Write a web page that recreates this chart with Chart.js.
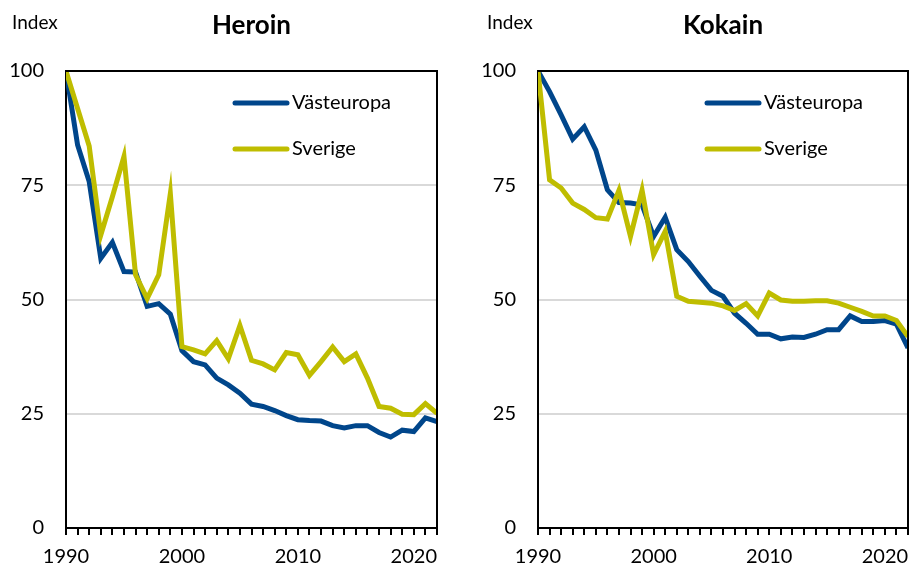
<!DOCTYPE html>
<html>
<head>
<meta charset="utf-8">
<script src="https://cdn.jsdelivr.net/npm/chart.js@4.4.1/dist/chart.umd.min.js"></script>
<style>
  html, body { margin:0; padding:0; background:#fff; }
  .panel { position:absolute; top:0; height:569px; }
  #p1 { left:0; width:455px; }
  #p2 { left:472px; width:438px; }
</style>
</head>
<body>
<div class="panel" id="p1"><canvas id="heroinChart"></canvas></div>
<div class="panel" id="p2"><canvas id="kokainChart"></canvas></div>
<script>
/* ---------- Data ---------- */
const years = [1990,1991,1992,1993,1994,1995,1996,1997,1998,1999,2000,2001,2002,2003,2004,2005,2006,2007,2008,2009,2010,2011,2012,2013,2014,2015,2016,2017,2018,2019,2020,2021,2022];
const xTickLabels = [1990, 2000, 2010, 2020];
const yTickLabels = [0, 25, 50, 75, 100];

const heroinVasteuropa = [100,83.8,75.8,59,62.5,56.1,56,48.5,49.1,46.8,38.8,36.4,35.7,32.8,31.3,29.5,27.1,26.6,25.7,24.6,23.7,23.5,23.4,22.4,21.9,22.4,22.4,20.9,19.9,21.4,21.1,24.1,23.3];
const heroinSverige    = [100,91.8,83.6,64.1,72.5,81.3,55.4,50.2,55.4,73.2,39.7,39,38.1,41,37,44.3,36.7,35.9,34.6,38.4,37.9,33.4,36.4,39.6,36.4,38.1,32.8,26.6,26.2,24.9,24.8,27.2,25.1];

const kokainVasteuropa = [100,95.5,90.4,85.1,87.8,82.7,74,71.2,71.1,70.7,63.8,68,60.9,58.3,55.1,52,50.7,47,44.8,42.4,42.4,41.4,41.8,41.7,42.4,43.4,43.4,46.4,45.2,45.2,45.4,44.6,39.4];
const kokainSverige    = [100,76.2,74.4,71.1,69.7,67.9,67.6,73.9,63.8,73.9,59.8,64.9,50.7,49.6,49.4,49.2,48.6,47.6,49.1,46.4,51.4,49.9,49.6,49.6,49.7,49.7,49.2,48.3,47.4,46.4,46.4,45.4,41.9];

const BLUE = "#00468b";
const YELLOW = "#bfbd00";
const FONT = "Lato, 'DejaVu Sans', sans-serif";

/* ---------- Plugin: frame, title, "Index", legend ---------- */
const decorations = {
  id: "decorations",
  afterDatasetsDraw(c, args, opts){
    const g = c.ctx, a = c.chartArea;
    g.save();
    // box on top and right
    g.strokeStyle = "#000";
    g.lineWidth = 2;
    g.beginPath();
    g.moveTo(a.left, a.top);
    g.lineTo(a.right, a.top);
    g.lineTo(a.right, a.bottom);
    g.stroke();

    // legend inside plot
    c.data.datasets.forEach((ds, i) => {
      const y = a.top + 32 + i * 46;
      const x0 = a.left + 169;
      g.strokeStyle = ds.borderColor;
      g.lineWidth = 5;
      g.lineCap = "round";
      g.beginPath();
      g.moveTo(x0, y);
      g.lineTo(x0 + 52, y);
      g.stroke();
      g.fillStyle = "#000";
      g.font = "20px " + FONT;
      g.textAlign = "left";
      g.textBaseline = "middle";
      g.fillText(ds.label, x0 + 57, y);
    });
    g.restore();
  },
  afterDraw(c, args, opts){
    const g = c.ctx, a = c.chartArea;
    g.save();
    g.fillStyle = "#000";
    g.textBaseline = "middle";
    g.textAlign = "left";
    g.font = "19px " + FONT;
    g.fillText("Index", opts.indexX, 23);
    g.textAlign = "center";
    g.font = "bold 26px " + FONT;
    g.fillText(opts.title, (a.left + a.right) / 2, 26);
    g.restore();
  }
};

function makeChart(canvasId, title, blueData, yellowData, indexX, rightPad){
  return new Chart(document.getElementById(canvasId), {
    type: "line",
    data: {
      datasets: [
        { label: "Västeuropa", data: years.map((y, i) => ({ x: y, y: blueData[i] })),
          borderColor: BLUE, backgroundColor: BLUE, borderWidth: 5, pointRadius: 0, tension: 0, order: 1 },
        { label: "Sverige", data: years.map((y, i) => ({ x: y, y: yellowData[i] })),
          borderColor: YELLOW, backgroundColor: YELLOW, borderWidth: 5, pointRadius: 0, tension: 0, order: 0 }
      ]
    },
    options: {
      responsive: true,
      maintainAspectRatio: false,
      animation: false,
      layout: { padding: { top: 71, right: rightPad, left: 0, bottom: 0 } },
      plugins: {
        legend: { display: false },
        tooltip: { enabled: false },
        decorations: { title, indexX }
      },
      scales: {
        x: {
          type: "linear",
          min: years[0], max: years[years.length - 1],
          afterBuildTicks: s => { s.ticks = years.map(v => ({ value: v })); },
          afterFit: s => { s.height = 41; s.paddingLeft = 0; s.paddingRight = 0; },
          grid: { drawOnChartArea: false, drawTicks: true, tickLength: 7, color: "#000", lineWidth: 2 },
          border: { display: true, color: "#000", width: 2 },
          ticks: {
            autoSkip: false, maxRotation: 0, padding: 10,
            color: "#000", font: { family: FONT, size: 20 },
            callback: v => xTickLabels.includes(v) ? String(v) : ""
          }
        },
        y: {
          min: 0, max: 100,
          afterBuildTicks: s => { s.ticks = yTickLabels.map(v => ({ value: v })); },
          afterFit: s => { s.width = 66; },
          grid: { drawTicks: false, color: "#d9d9d9", lineWidth: 2 },
          border: { display: true, color: "#000", width: 2 },
          ticks: { padding: 22, color: "#000", font: { family: FONT, size: 20 } }
        }
      }
    },
    plugins: [decorations]
  });
}

makeChart("heroinChart", "Heroin", heroinVasteuropa, heroinSverige, 12, 18);
makeChart("kokainChart", "Kokain", kokainVasteuropa, kokainSverige, 15, 2);
</script>
</body>
</html>
